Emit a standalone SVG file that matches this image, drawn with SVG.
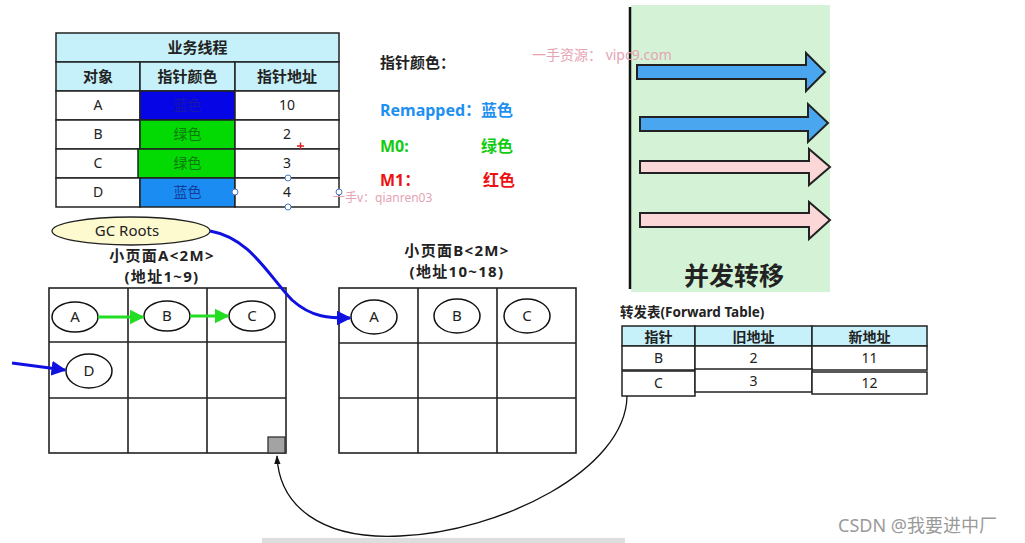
<svg xmlns="http://www.w3.org/2000/svg" width="1025" height="543" viewBox="0 0 1025 543">
<style>
text{font-family:"Noto Sans","Noto Sans CJK SC",sans-serif;}
.cell{fill:#fff;stroke:#222;stroke-width:1.5;}
.hdr{fill:#c6f1fa;stroke:#222;stroke-width:1.5;}
.t{font-size:14px;fill:#222;text-anchor:middle;}
.tb{font-size:15px;font-weight:bold;fill:#222;text-anchor:middle;}
.pl{font-size:15px;font-weight:bold;fill:#222;text-anchor:middle;letter-spacing:1.3px;}
.grid{fill:#fff;stroke:#222;stroke-width:1.6;}
.obj{fill:#fff;stroke:#111;stroke-width:1.5;}
.ot{font-size:15px;fill:#222;text-anchor:middle;}
.wm{font-size:14px;fill:#e6a3b3;}
.handle{fill:#fff;stroke:#4a78c8;stroke-width:1;}
.big{stroke:#222;stroke-width:2;}
</style>
<defs>
<marker id="mBlue" viewBox="0 0 10 10" refX="9" refY="5" markerWidth="5" markerHeight="5" orient="auto"><path d="M0,0 L10,5 L0,10 z" fill="#1010e0"/></marker>
<marker id="mGreen" viewBox="0 0 10 10" refX="9" refY="5" markerWidth="5" markerHeight="5" orient="auto"><path d="M0,0 L10,5 L0,10 z" fill="#22dd22"/></marker>
<marker id="mBlack" viewBox="0 0 10 10" refX="9" refY="5" markerWidth="7" markerHeight="7" orient="auto"><path d="M0,1.5 L10,5 L0,8.5 z" fill="#111"/></marker>
</defs>
<rect width="1025" height="543" fill="#fff"/>

<!-- business thread table -->
<g id="thread-table">
<rect class="hdr" x="56" y="33" width="283" height="29"/>
<text class="tb" x="197.5" y="53">业务线程</text>
<rect class="hdr" x="56" y="62" width="84" height="29"/>
<rect class="hdr" x="140" y="62" width="95" height="29"/>
<rect class="hdr" x="235" y="62" width="104" height="29"/>
<text class="tb" x="98" y="82">对象</text>
<text class="tb" x="187.5" y="82">指针颜色</text>
<text class="tb" x="287" y="82">指针地址</text>
<rect class="cell" x="56" y="91" width="84" height="29"/>
<rect x="140" y="91" width="95" height="29" fill="#0505e6" stroke="#222" stroke-width="1.5"/>
<rect class="cell" x="235" y="91" width="104" height="29"/>
<text class="t" x="98" y="110">A</text>
<text class="t" x="187.5" y="110" style="fill:#1818a8">蓝色</text>
<text class="t" x="287" y="110">10</text>
<rect class="cell" x="56" y="120" width="84" height="29"/>
<rect x="140" y="120" width="95" height="29" fill="#03d903" stroke="#222" stroke-width="1.5"/>
<rect class="cell" x="235" y="120" width="104" height="29"/>
<text class="t" x="98" y="139">B</text>
<text class="t" x="187.5" y="139" style="fill:#0a7a0a">绿色</text>
<text class="t" x="287" y="139">2</text>
<rect class="cell" x="56" y="149" width="84" height="29"/>
<rect x="138" y="149" width="97" height="29" fill="#03d903" stroke="#222" stroke-width="1.5"/>
<rect class="cell" x="235" y="149" width="104" height="29"/>
<text class="t" x="98" y="168">C</text>
<text class="t" x="187.5" y="168" style="fill:#0a7a0a">绿色</text>
<text class="t" x="287" y="168">3</text>
<rect class="cell" x="56" y="178" width="84" height="29"/>
<rect x="140" y="178" width="95" height="29" fill="#1a8cf2" stroke="#222" stroke-width="1.5"/>
<rect class="cell" x="235" y="178" width="104" height="29"/>
<text class="t" x="98" y="197">D</text>
<text class="t" x="187.5" y="197" style="fill:#123c9a">蓝色</text>
<text class="t" x="287" y="197">4</text>
<path d="M297,146 h7 M300.5,142.5 v7" stroke="#e02020" stroke-width="1.5"/>
<circle class="handle" cx="235" cy="192" r="3"/>
<circle class="handle" cx="288" cy="178" r="3"/>
<circle class="handle" cx="288" cy="207" r="3"/>
<circle class="handle" cx="339" cy="192" r="3"/>
</g>

<!-- legend -->
<g id="legend">
<text x="380" y="68" font-size="15" font-weight="bold" fill="#222">指针颜色：</text>
<text x="380" y="116" font-size="16" font-weight="bold" fill="#1e90f0">Remapped：蓝色</text>
<text x="380" y="152" font-size="16" font-weight="bold" fill="#11cc11">M0:</text>
<text x="481" y="152" font-size="16" font-weight="bold" fill="#11cc11">绿色</text>
<text x="380" y="186" font-size="16" font-weight="bold" fill="#ee1111">M1：</text>
<text x="483" y="186" font-size="16" font-weight="bold" fill="#ee1111">红色</text>
</g>

<!-- concurrent relocation panel -->
<g id="relocation-panel">
<rect x="631" y="5" width="199" height="287" fill="#d4f3d6"/>
<line x1="630" y1="7" x2="630" y2="289" stroke="#111" stroke-width="2.5"/>
<path class="big" fill="#4aa6ee" d="M637,65 H806 V53 L825,72 L806,91 V79 H637 Z"/>
<path class="big" fill="#4aa6ee" d="M640,117 H808 V104 L828,123 L808,142 V131 H640 Z"/>
<path class="big" fill="#fcd7d8" d="M640,161 H809 V149 L830,167 L809,185 V173 H640 Z"/>
<path class="big" fill="#fcd7d8" d="M640,213 H809 V202 L830,220 L809,239 V227 H640 Z"/>
<text x="734" y="285" font-size="25" font-weight="bold" fill="#222" text-anchor="middle">并发转移</text>
</g>

<!-- watermarks -->
<text class="wm" x="532" y="60" font-size="15">一手资源：  vipc9.com</text>
<text class="wm" x="333" y="202" style="font-size:12px">一手v：qianren03</text>

<!-- GC Roots -->
<g id="gc-roots">
<ellipse cx="131" cy="231" rx="79" ry="14" fill="#fdfad0" stroke="#222" stroke-width="1.3"/>
<text x="127" y="236" font-size="15" fill="#222" text-anchor="middle">GC Roots</text>
</g>

<!-- page A -->
<g id="page-a">
<text class="pl" x="162" y="261">小页面A&lt;2M&gt;</text>
<text class="pl" x="162" y="282">(地址1~9)</text>
<rect class="grid" x="49" y="288" width="237" height="165"/>
<path d="M128,288 V453 M207,288 V453 M49,342 H286 M49,398 H286" stroke="#222" stroke-width="1.6"/>
<rect x="268" y="437" width="17" height="16" fill="#a3a3a3" stroke="#333" stroke-width="1.3"/>
</g>
<g id="a-A"><ellipse class="obj" cx="75" cy="317" rx="23" ry="15"/><text class="ot" x="75" y="322">A</text></g>
<g id="a-B"><ellipse class="obj" cx="167" cy="316" rx="23" ry="15"/><text class="ot" x="167" y="321">B</text></g>
<g id="a-C"><ellipse class="obj" cx="252" cy="316" rx="23" ry="15"/><text class="ot" x="252" y="321">C</text></g>
<g id="a-D"><ellipse class="obj" cx="89" cy="371" rx="23" ry="17"/><text class="ot" x="89" y="376">D</text></g>

<!-- page B -->
<g id="page-b">
<text class="pl" x="457" y="256">小页面B&lt;2M&gt;</text>
<text class="pl" x="457" y="277">(地址10~18)</text>
<rect class="grid" x="339" y="288" width="237" height="165"/>
<path d="M418,288 V453 M497,288 V453 M339,343 H576 M339,398 H576" stroke="#222" stroke-width="1.6"/>
</g>
<g id="b-A"><ellipse class="obj" cx="374" cy="317" rx="23" ry="17"/><text class="ot" x="374" y="322">A</text></g>
<g id="b-B"><ellipse class="obj" cx="457" cy="316" rx="23" ry="17"/><text class="ot" x="457" y="321">B</text></g>
<g id="b-C"><ellipse class="obj" cx="527" cy="316" rx="23" ry="17"/><text class="ot" x="527" y="321">C</text></g>

<!-- forward table -->
<g id="forward-table">
<text x="620" y="317" font-size="13.5" font-weight="bold" fill="#222">转发表(Forward Table)</text>
<rect class="hdr" x="622" y="326" width="73" height="20"/>
<rect class="hdr" x="695" y="326" width="117" height="20"/>
<rect class="hdr" x="812" y="326" width="115" height="20"/>
<text class="tb" x="658.5" y="342" style="font-size:14px">指针</text>
<text class="tb" x="753.5" y="342" style="font-size:14px">旧地址</text>
<text class="tb" x="869.5" y="342" style="font-size:14px">新地址</text>
<rect class="cell" x="622" y="346" width="73" height="24"/>
<rect class="cell" x="695" y="346" width="117" height="24"/>
<rect class="cell" x="812" y="346" width="115" height="24"/>
<text class="t" x="658.5" y="363">B</text>
<text class="t" x="753.5" y="363">2</text>
<text class="t" x="869.5" y="363">11</text>
<rect class="cell" x="622" y="371" width="73" height="25"/>
<rect class="cell" x="695" y="369" width="117" height="23"/>
<rect class="cell" x="812" y="372" width="115" height="22"/>
<text class="t" x="658.5" y="388">C</text>
<text class="t" x="753.5" y="386">3</text>
<text class="t" x="869.5" y="388">12</text>
</g>

<!-- connectors -->
<g id="connectors" fill="none">
<path d="M98,317 H143" stroke="#22dd22" stroke-width="3" marker-end="url(#mGreen)"/>
<path d="M190,316 H228" stroke="#22dd22" stroke-width="3" marker-end="url(#mGreen)"/>
<path d="M12,363 L65,370" stroke="#1010e0" stroke-width="3" marker-end="url(#mBlue)"/>
<path d="M210,231 C250,238 268,275 292,300 C312,318 330,318 350,318" stroke="#1010e0" stroke-width="3" marker-end="url(#mBlue)"/>
<path d="M627,396 C626,470 500,532 400,536 C320,540 279,505 277,456" stroke="#111" stroke-width="1.3" marker-end="url(#mBlack)"/>
</g>

<rect x="262" y="538" width="363" height="5" fill="#dedede"/>
<text x="838" y="532" font-size="18" fill="#9a9a9a">CSDN @我要进中厂</text>
</svg>
